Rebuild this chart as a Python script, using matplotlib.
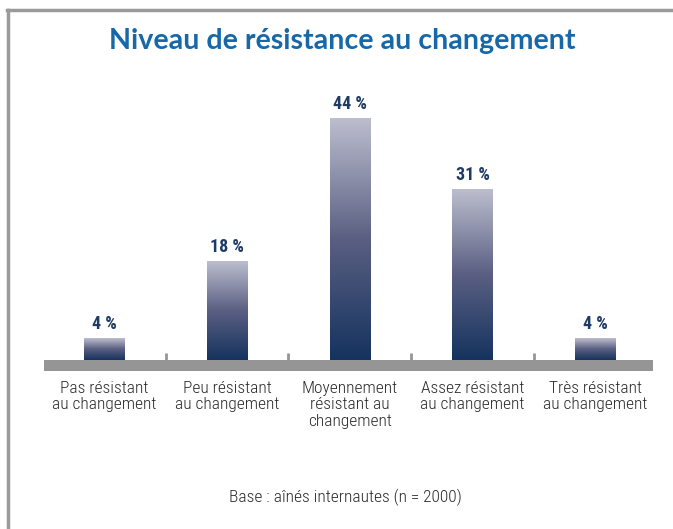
import matplotlib
matplotlib.use("Agg")
import matplotlib.pyplot as plt
import numpy as np
from matplotlib.colors import LinearSegmentedColormap
from matplotlib.lines import Line2D
from matplotlib.patches import Rectangle

categories = ["Pas résistant\nau changement", "Peu résistant\nau changement",
              "Moyennement\nrésistant au\nchangement", "Assez résistant\nau changement",
              "Très résistant\nau changement"]
values = [4, 18, 44, 31, 4]
value_labels = ["4 %", "18 %", "44 %", "31 %", "4 %"]
title = "Niveau de résistance au changement"
note = "Base : aînés internautes (n = 2000)"

W, H = 673, 529
fig = plt.figure(figsize=(W / 100, H / 100), dpi=100)
fig.patch.set_facecolor("white")

cond = ["Roboto Condensed", "DejaVu Sans"]

# axes: x pixels 44..653, y pixels 360 (0) .. 90
ax_l, ax_r = 44 / W, 653 / W
ax_b, ax_t = 1 - 360 / H, 1 - 90 / H
ax = fig.add_axes([ax_l, ax_b, ax_r - ax_l, ax_t - ax_b])
ymax = 270 / 5.5
ax.axis("off")

cmap = LinearSegmentedColormap.from_list(
    "grad", [(0.0, "#15335e"), (0.5, "#5a5f82"), (1.0, "#bcbece")])
grad = np.linspace(0, 1, 256).reshape(-1, 1)
bw = 0.326
for i, v in enumerate(values):
    ax.imshow(grad, cmap=cmap, origin="lower", aspect="auto",
              extent=[i - bw / 2, i + bw / 2, 0, v], zorder=2, interpolation="bilinear")
    ax.text(i, v + 5 / 5.5, value_labels[i], ha="center", va="bottom",
            fontsize=13, fontweight="bold", color="#1f3a63", family=cond)
    ax.text(i, -21 / 5.5, categories[i], ha="center", va="top",
            fontsize=12.5, fontweight="light", color="#2a2a2a", family=cond,
            linespacing=1.12)
ax.set_xlim(-0.49, 4.47)
ax.set_ylim(0, ymax)

# grey baseline band
ax.add_patch(Rectangle((-0.49, -10.5 / 5.5), 4.96, 10.5 / 5.5, facecolor="#959595",
                       edgecolor="none", clip_on=False, zorder=3))
# small separator ticks
for xt in [0.5, 1.5, 2.5, 3.5]:
    ax.plot([xt, xt], [0, 7 / 5.5], color="#959595", lw=2, clip_on=False, zorder=3,
            solid_capstyle="butt")

# frame lines
fig.add_artist(Line2D([7 / W, 1], [1 - 10 / H, 1 - 10 / H], color="#9a9a9a", lw=2.5,
                      transform=fig.transFigure))
fig.add_artist(Line2D([8 / W, 8 / W], [0, 1 - 10 / H], color="#9a9a9a", lw=2.5,
                      transform=fig.transFigure))

fig.text(342 / W, 1 - 41 / H, title, ha="center", va="center", fontsize=20.6,
         fontweight="bold", color="#1668a8", family=["Lato", "DejaVu Sans"])
fig.text(345 / W, 1 - 497 / H, note, ha="center", va="center", fontsize=12.5,
         fontweight="light", color="#2a2a2a", family=cond)

fig.savefig("out.png", dpi=100, facecolor="white")
